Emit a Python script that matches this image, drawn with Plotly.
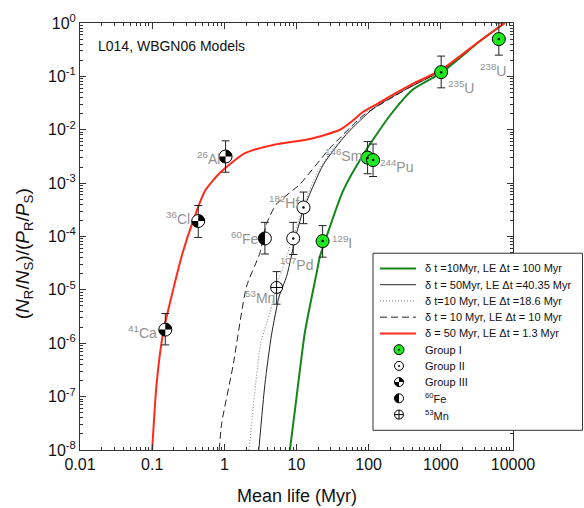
import numpy as np
import plotly.graph_objects as go

# ---------------- data ----------------
# model curves: mean life (Myr) vs (NR/NS)/(PR/PS)
green_x = [8.1, 10, 13.1, 19, 21.1, 26, 44, 84, 197, 414, 1010, 3470, 7700]
green_y = [1e-8, 9.6e-8, 1.63e-6, 2.08e-5, 4.2e-5, 9.9e-5, 7.1e-4, 3.4e-3, 0.0185, 0.0574, 0.116, 0.455, 1.0]

solid_x = [3.0, 3.65, 4.5, 5.77, 7.3, 10, 12.5, 23.4, 49, 116, 334, 1010, 3470, 7700]
solid_y = [1e-8, 1.7e-7, 1.42e-6, 7.7e-6, 1.8e-5, 1.14e-4, 3.2e-4, 2.2e-3, 8.2e-3, 0.025, 0.058, 0.126, 0.455, 1.0]

dotted_x = [2.2, 2.6, 3.2, 4.3, 5.3, 7, 10, 12.4, 20, 40, 100, 334, 1010, 3470, 7700]
dotted_y = [1e-8, 1e-7, 1e-6, 3.8e-6, 1.2e-5, 3.5e-5, 1.5e-4, 3.6e-4, 1.7e-3, 6.5e-3, 0.023, 0.059, 0.127, 0.455, 1.0]

dashed_x = [0.85, 0.917, 1.315, 2.04, 3.11, 3.85, 5.3, 11.1, 29, 84, 197, 413, 1010, 3470, 7700]
dashed_y = [1e-8, 3.1e-8, 3.7e-7, 1.18e-5, 4.9e-5, 1.74e-4, 4.06e-4, 9.5e-4, 4.5e-3, 0.0185, 0.038, 0.068, 0.128, 0.455, 1.0]

red_x = [0.1, 0.115, 0.1425, 0.195, 0.264, 0.371, 0.538, 0.87, 1.93, 4.75, 15.3, 40, 60, 83, 143, 197, 413, 1010, 3470, 7700]
red_y = [1e-8, 1.7e-7, 1.63e-6, 1.0e-5, 4.9e-5, 2.0e-4, 7.1e-4, 1.56e-3, 3.64e-3, 5.2e-3, 6.7e-3, 1.0e-2, 0.0148, 0.0215, 0.0325, 0.042, 0.073, 0.132, 0.46, 1.0]

curve_names = ["δ t =10Myr, LE Δt = 100 Myr",
               "δ t = 50Myr, LE Δt =40.35 Myr",
               "δ t=10 Myr, LE Δt =18.6 Myr",
               "δ t = 10 Myr, LE Δt = 10 Myr",
               "δ = 50 Myr, LE Δt = 1.3 Myr"]

# measured isotopes
iso_mass = ["41", "36", "26", "60", "53", "107", "182", "129", "146", "244", "235", "238"]
iso_elem = ["Ca", "Cl", "Al", "Fe", "Mn", "Pd", "Hf", "I", "Sm", "Pu", "U", "U"]
iso_group = ["III", "III", "III", "Fe", "Mn", "II", "II", "I", "I", "I", "I", "I"]
mean_life = [0.152, 0.435, 1.04, 3.65, 5.3, 9.0, 12.5, 23, 96.6, 115, 1010, 6360]
ratio = [1.8e-6, 1.95e-4, 3.15e-3, 9.2e-5, 1.11e-5, 9.2e-5, 3.5e-4, 8.2e-5, 3.0e-3, 2.7e-3, 0.12, 0.5]
ratio_hi = [3.6e-6, 3.8e-4, 6.2e-3, 1.84e-4, 2.2e-5, 1.84e-4, 6.8e-4, 1.6e-4, 6.0e-3, 5.4e-3, 0.24, 1.0]
ratio_lo = [9.3e-7, 9.6e-5, 1.6e-3, 4.7e-5, 5.4e-6, 4.6e-5, 1.74e-4, 4.1e-5, 1.5e-3, 1.33e-3, 0.061, 0.25]

legend_groups = ["Group I", "Group II", "Group III", "<sup>60</sup>Fe", "<sup>53</sup>Mn"]

x_tickvals = [0.01, 0.1, 1, 10, 100, 1000, 10000]
x_ticktext = ["0.01", "0.1", "1", "10", "100", "1000", "10000"]
y_exponents = [0, -1, -2, -3, -4, -5, -6, -7, -8]

# ---------------- style ----------------
FONT = "Liberation Sans, Arial, sans-serif"
GREEN_LINE = "#12861a"
RED_LINE = "#ff2a1a"
LIME = "#1ee81e"
LABEL_GRAY = "#929292"

W, H = 584, 508
L, R, T, B = 80, 71, 16, 58
PW, PH = W - L - R, H - T - B


def px2paper(px, py):
    return (px - L) / PW, (H - B - py) / PH


fig = go.Figure()

curve_styles = [
    (green_x, green_y, dict(color=GREEN_LINE, width=2)),
    (solid_x, solid_y, dict(color="#222222", width=1)),
    (dotted_x, dotted_y, dict(color="#777777", width=1, dash="1px,2px")),
    (dashed_x, dashed_y, dict(color="#222222", width=1, dash="7px,4px")),
    (red_x, red_y, dict(color=RED_LINE, width=2)),
]
for (cx, cy, ln), nm in zip(curve_styles, curve_names):
    fig.add_trace(go.Scatter(x=cx, y=cy, mode="lines", name=nm,
                             line=dict(shape="spline", smoothing=0.6, **ln),
                             showlegend=False, hoverinfo="skip"))

# points with error bars
ml = np.array(mean_life)
rt = np.array(ratio)
hi = np.array(ratio_hi)
lo = np.array(ratio_lo)
fill_for = {"I": LIME, "II": "white", "III": "white", "Fe": "white", "Mn": "white"}
MS = 13
for g in ["III", "Fe", "Mn", "II", "I"]:
    idx = [i for i, gg in enumerate(iso_group) if gg == g]
    fig.add_trace(go.Scatter(
        x=ml[idx], y=rt[idx], mode="markers", showlegend=False,
        marker=dict(symbol="circle-cross" if g == "Mn" else "circle", size=MS if g != "Mn" else 12,
                    color=fill_for[g], line=dict(color="black", width=1)),
        error_y=dict(type="data", symmetric=False, array=hi[idx] - rt[idx],
                     arrayminus=rt[idx] - lo[idx], color="#222222", thickness=1, width=4)))
    if g in ("I", "II"):
        fig.add_trace(go.Scatter(x=ml[idx], y=rt[idx], mode="markers", showlegend=False,
                                 marker=dict(symbol="circle", size=2.5, color="black")))


def wedge_path(segs, r, n=14):
    parts = []
    for a0, a1 in segs:
        pts = ["M0,0"]
        for t in np.linspace(np.radians(a0), np.radians(a1), n):
            pts.append(f"L{r*np.cos(t):.2f},{r*np.sin(t):.2f}")
        parts.append(" ".join(pts) + " Z")
    return " ".join(parts)


shapes = []
SEGS = {"III": [(0, 90), (180, 270)], "Fe": [(90, 270)]}
for i, g in enumerate(iso_group):
    if g in SEGS:
        shapes.append(dict(type="path", xref="x", yref="y", xsizemode="pixel", ysizemode="pixel",
                           xanchor=mean_life[i], yanchor=ratio[i],
                           path=wedge_path(SEGS[g], MS / 2), fillcolor="black",
                           line=dict(width=0), layer="above"))

# isotope labels (anchor side, pixel offsets)
lab_pos = {
    "41Ca": ("right", -6, -2), "36Cl": ("right", -6, 3), "26Al": ("right", -4, -1),
    "60Fe": ("right", -5, 0), "53Mn": ("right", 0, -10), "107Pd": ("center", 3, -26),
    "182Hf": ("right", -2, 5), "129I": ("left", 7, -1), "146Sm": ("right", -4, 3),
    "244Pu": ("left", 5, -6), "235U": ("left", 5, -15), "238U": ("center", -6, -31),
}
annotations = []
for i in range(len(iso_mass)):
    key = iso_mass[i] + iso_elem[i]
    anc, dx, dy = lab_pos[key]
    annotations.append(dict(x=np.log10(mean_life[i]), y=np.log10(ratio[i]), xref="x", yref="y",
                            text=f"<sup>{iso_mass[i]}</sup>{iso_elem[i]}", showarrow=False,
                            xanchor=anc, yanchor="middle", xshift=dx, yshift=dy,
                            font=dict(family=FONT, size=14, color=LABEL_GRAY)))

# title inside
tx, ty = px2paper(96, 39)
annotations.append(dict(x=tx, y=ty, xref="paper", yref="paper", text="L014, WBGN06 Models",
                        showarrow=False, xanchor="left", yanchor="middle",
                        font=dict(family=FONT, size=14, color="#111111")))
# axis titles
ax_, ay_ = px2paper(296.5, 497)
annotations.append(dict(x=ax_, y=ay_, xref="paper", yref="paper", text="Mean life (Myr)",
                        showarrow=False, xanchor="center", yanchor="middle",
                        font=dict(family=FONT, size=18, color="#111111")))
yx_, yy_ = px2paper(24, 250)
annotations.append(dict(x=yx_, y=yy_, xref="paper", yref="paper", textangle=-90,
                        text="(<i>N</i><sub>R</sub>/<i>N</i><sub>S</sub>)/(<i>P</i><sub>R</sub>/<i>P</i><sub>S</sub>)",
                        showarrow=False, xanchor="center", yanchor="middle",
                        font=dict(family=FONT, size=19, color="#111111")))

# ---------------- manual legend ----------------
bx0, by0 = px2paper(373, 430)
bx1, by1 = px2paper(582.5, 250)
shapes.append(dict(type="rect", xref="paper", yref="paper", x0=bx0, x1=bx1, y0=by0, y1=by1,
                   line=dict(color="#333333", width=1), fillcolor="white", layer="above"))
row_y = [265.5 + 16.5 * k for k in range(10)]
for k, ((cx, cy, ln), nm) in enumerate(zip(curve_styles, curve_names)):
    lx0, ly = px2paper(380, row_y[k])
    lx1, _ = px2paper(416, row_y[k])
    dash = ln.get("dash", "solid")
    shapes.append(dict(type="line", xref="paper", yref="paper", x0=lx0, x1=lx1, y0=ly, y1=ly,
                       line=dict(color=ln["color"], width=ln["width"], dash=dash), layer="above"))
    txx, _ = px2paper(423, 0)
    annotations.append(dict(x=txx, y=ly, xref="paper", yref="paper", text=nm, showarrow=False,
                            xanchor="left", yanchor="middle",
                            font=dict(family=FONT, size=11, color="#111111")))
leg_keys = ["I", "II", "III", "Fe", "Mn"]
for j, (gk, gname) in enumerate(zip(leg_keys, legend_groups)):
    yrow = row_y[5 + j]
    sx, sy = px2paper(399, yrow)
    r = 5 if gk == "I" else 4.5
    common = dict(xref="paper", yref="paper", xsizemode="pixel", ysizemode="pixel",
                  xanchor=sx, yanchor=sy, layer="above")
    shapes.append(dict(type="circle", x0=-r, x1=r, y0=-r, y1=r,
                       fillcolor=fill_for[gk], line=dict(color="black", width=1), **common))
    if gk in SEGS:
        shapes.append(dict(type="path", path=wedge_path(SEGS[gk], r), fillcolor="black",
                           line=dict(width=0), **common))
    if gk in ("I", "II"):
        shapes.append(dict(type="circle", x0=-1, x1=1, y0=-1, y1=1, fillcolor="black",
                           line=dict(width=0), **common))
    if gk == "Mn":
        shapes.append(dict(type="path", path=f"M{-r},0 L{r},0 M0,{-r} L0,{r}",
                           line=dict(color="black", width=1), **common))
    txx, tyy = px2paper(423, yrow)
    annotations.append(dict(x=txx, y=tyy, xref="paper", yref="paper", text=gname, showarrow=False,
                            xanchor="left", yanchor="middle",
                            font=dict(family=FONT, size=11, color="#111111")))

# ---------------- axes ----------------
x_minor = [m * 10.0 ** e for e in range(-2, 4) for m in range(2, 10)]
y_minor = [m * 10.0 ** e for e in range(-8, 0) for m in range(2, 10)]
axis_common = dict(showline=True, linecolor="#333333", linewidth=1, mirror="allticks",
                   ticks="inside", ticklen=6, tickwidth=1, tickcolor="#333333",
                   showgrid=False, zeroline=False,
                   tickfont=dict(family=FONT, size=16, color="#111111"))
fig.update_xaxes(type="log", range=[-2, 4], tickvals=x_tickvals, ticktext=x_ticktext,
                 minor=dict(tickvals=x_minor, ticks="inside", ticklen=3, tickcolor="#333333", showgrid=False),
                 **axis_common)
fig.update_yaxes(type="log", range=[-8, 0], tickvals=[10.0 ** e for e in y_exponents],
                 ticktext=[f"10<sup>{e}</sup>" for e in y_exponents],
                 minor=dict(tickvals=y_minor, ticks="inside", ticklen=3, tickcolor="#333333", showgrid=False),
                 **axis_common)

fig.update_layout(width=W, height=H, margin=dict(l=L, r=R, t=T, b=B, pad=0),
                  plot_bgcolor="white", paper_bgcolor="white", showlegend=False,
                  shapes=shapes, annotations=annotations, hovermode=False,
                  font=dict(family=FONT, color="#111111"))

fig.write_html("out.html", config={"displayModeBar": False, "staticPlot": True},
               post_script="document.body.style.margin='0';document.body.style.overflow='hidden';")
